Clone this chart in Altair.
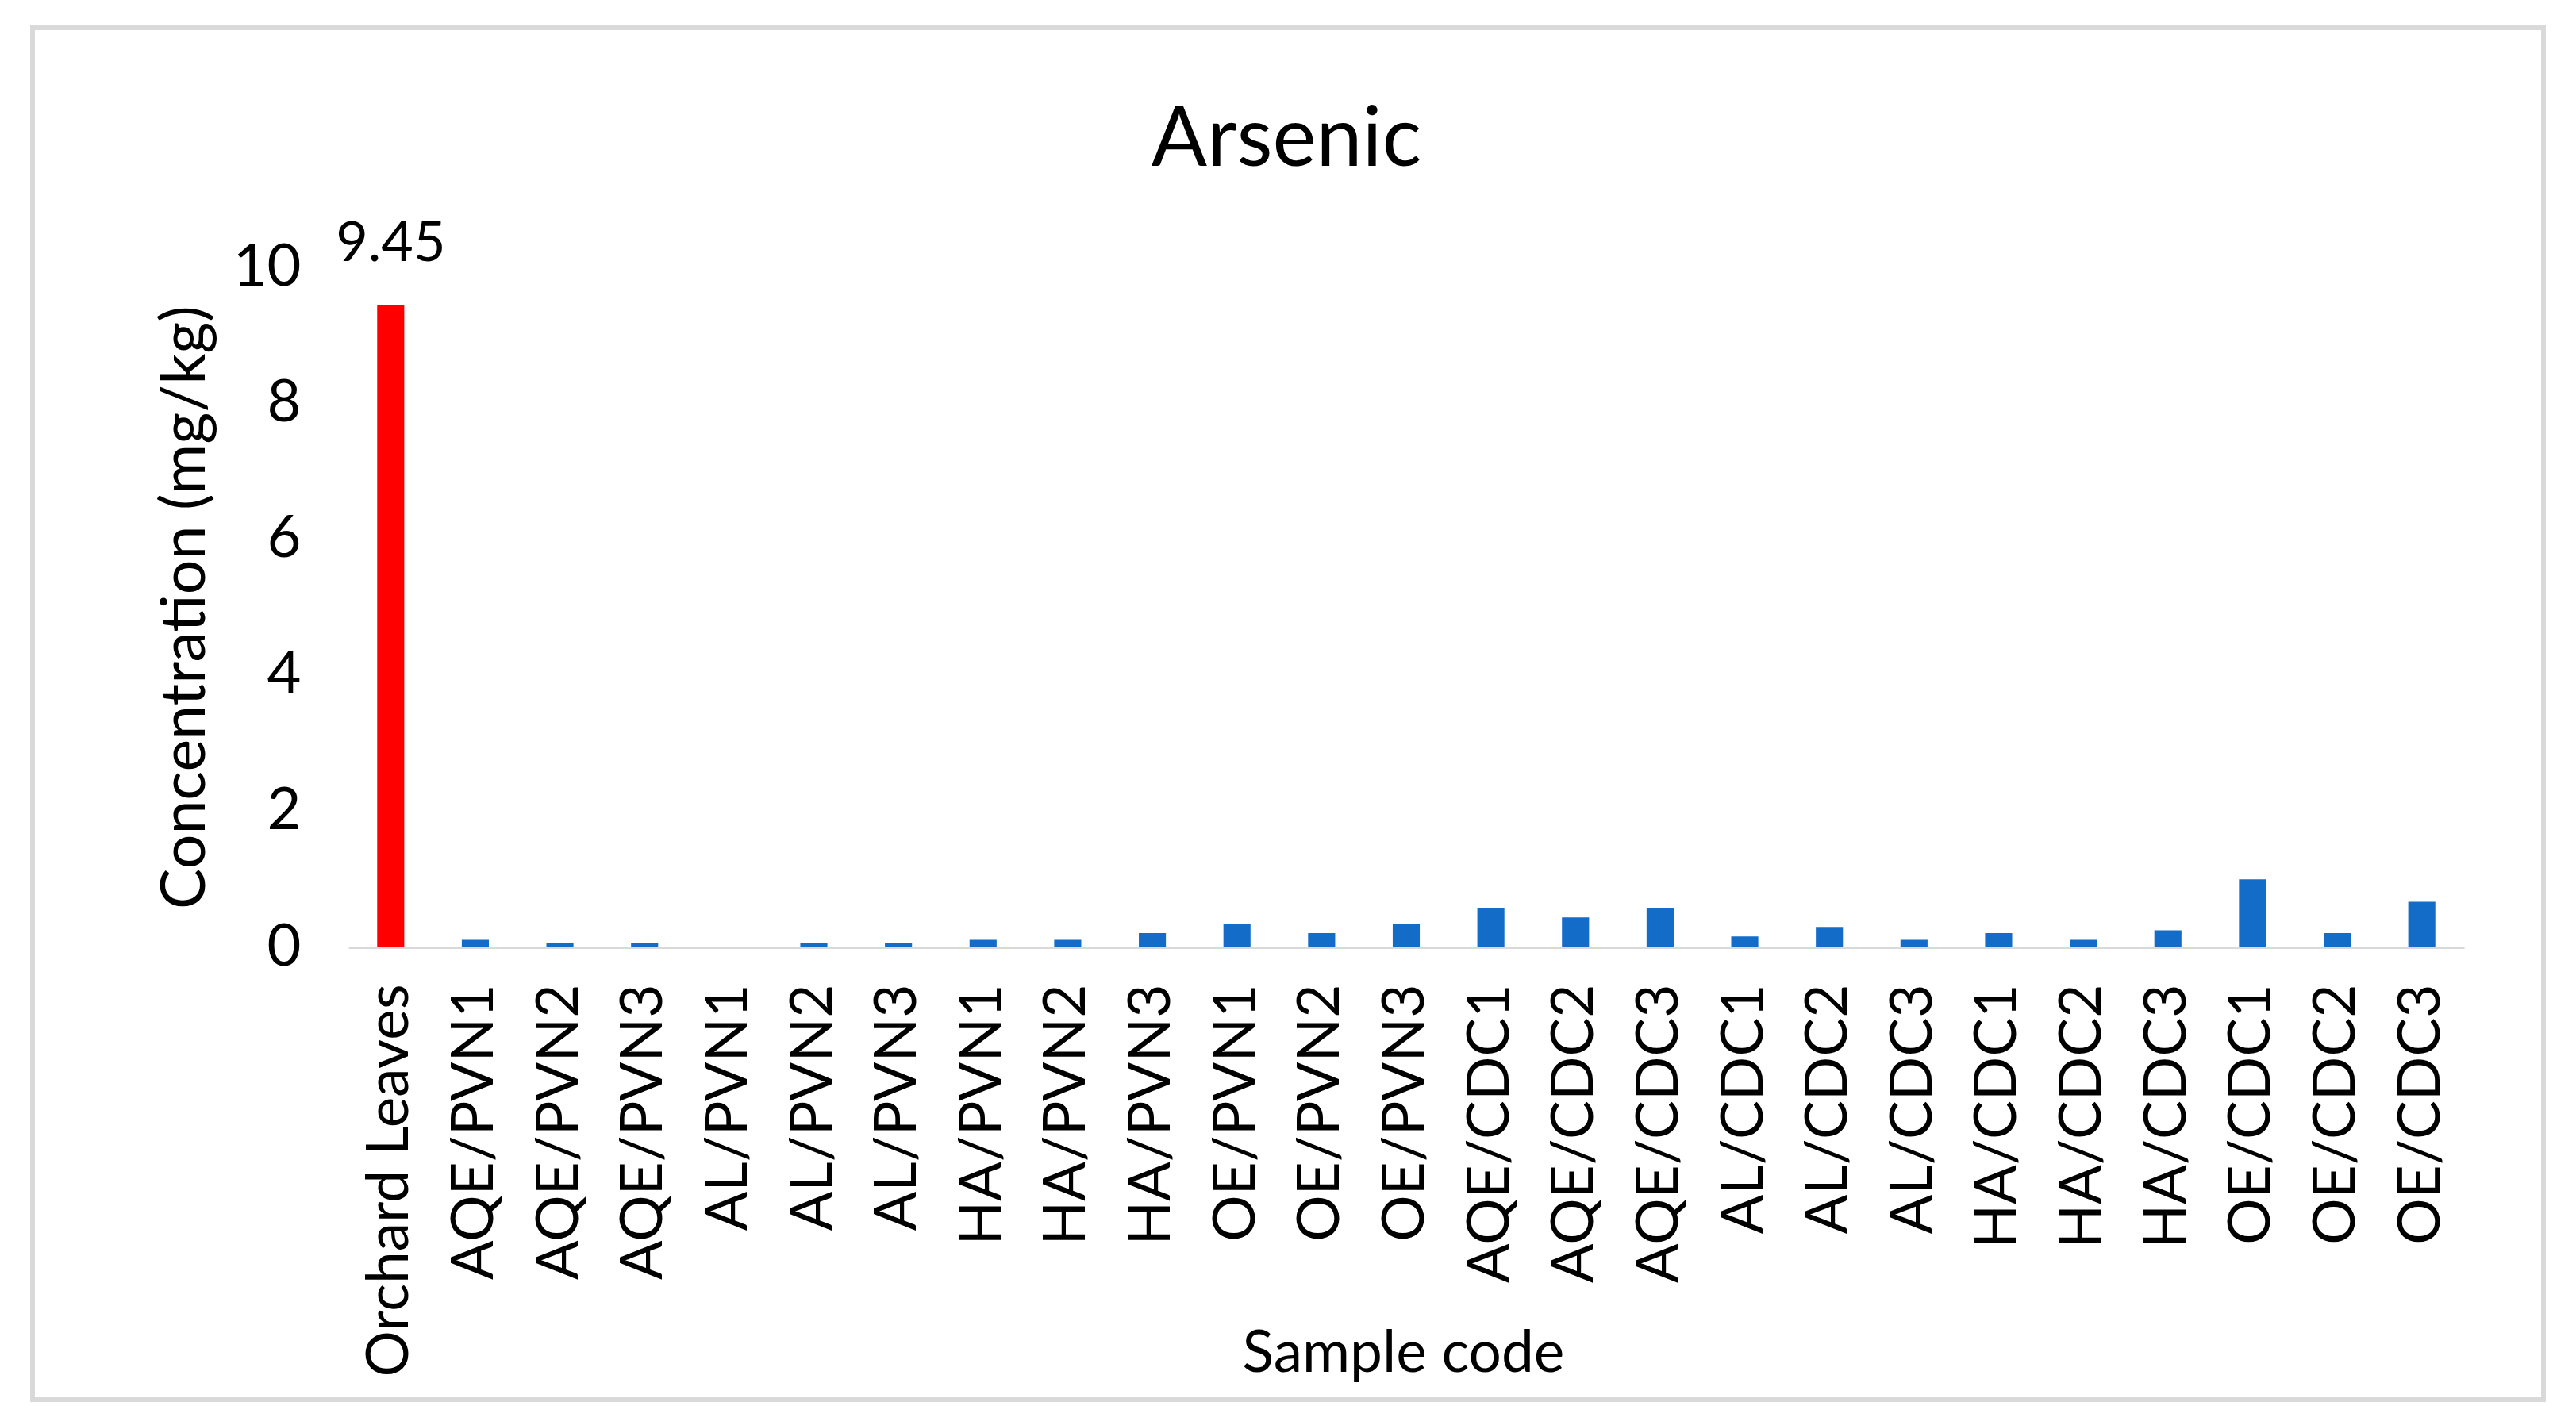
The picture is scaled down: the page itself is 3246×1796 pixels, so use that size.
import altair as alt
import pandas as pd

samples = ["Orchard Leaves", "AQE/PVN1", "AQE/PVN2", "AQE/PVN3", "AL/PVN1", "AL/PVN2",
           "AL/PVN3", "HA/PVN1", "HA/PVN2", "HA/PVN3", "OE/PVN1", "OE/PVN2", "OE/PVN3",
           "AQE/CDC1", "AQE/CDC2", "AQE/CDC3", "AL/CDC1", "AL/CDC2", "AL/CDC3",
           "HA/CDC1", "HA/CDC2", "HA/CDC3", "OE/CDC1", "OE/CDC2", "OE/CDC3"]
values = [9.45, 0.11, 0.07, 0.07, 0.0, 0.07, 0.07, 0.11, 0.11, 0.21, 0.35, 0.21, 0.35,
          0.58, 0.44, 0.58, 0.16, 0.30, 0.11, 0.21, 0.11, 0.25, 1.0, 0.21, 0.67]
groups = ["ref"] + ["sample"] * (len(samples) - 1)
labels = ["9.45"] + [""] * (len(samples) - 1)

df = pd.DataFrame({"sample": samples, "value": values, "group": groups, "label": labels})

FONT = "Lato"
W, H = 2666, 857

x = alt.X("sample:N", sort=samples, title="Sample code",
          scale=alt.Scale(paddingInner=0.68, paddingOuter=0.34),
          axis=alt.Axis(labelAngle=-90, labelFontSize=73, labelFont=FONT, labelColor="#000000",
                        labelPadding=46, ticks=False, domainColor="#d9d9d9", domainWidth=3,
                        titleFontSize=73, titleFont=FONT, titleFontWeight="normal",
                        titleColor="#000000", titleX=1329, titleY=534, titleBaseline="alphabetic",
                        titleAlign="center", labelLimit=1000))
y = alt.Y("value:Q", title="Concentration (mg/kg)",
          scale=alt.Scale(domain=[0, 10]),
          axis=alt.Axis(values=[0, 2, 4, 6, 8, 10], format="d", grid=False, domain=False, ticks=False,
                        labelFontSize=74, labelFont=FONT, labelColor="#000000", labelPadding=60,
                        titleFontSize=77, titleFont=FONT, titleFontWeight="normal",
                        titleColor="#000000", titleX=-205, titleY=428, titleBaseline="middle",
                        titleAlign="center", titleAngle=-90))

bars = alt.Chart(df).mark_bar().encode(
    x=x, y=y,
    color=alt.Color("group:N", scale=alt.Scale(domain=["ref", "sample"], range=["#FF0000", "#146CC9"]),
                    legend=None),
)

text = alt.Chart(df).transform_filter("datum.label != ''").mark_text(
    baseline="bottom", dy=-40, fontSize=70, font=FONT, color="#000000"
).encode(x=alt.X("sample:N", sort=samples), y="value:Q", text="label:N")

frame = alt.Chart(df).mark_rect(fill=None, stroke="#d9d9d9", strokeWidth=5, clip=False).encode(
    x=alt.value(-398), x2=alt.value(2766), y=alt.value(-302), y2=alt.value(1427)
)

chart = alt.layer(frame, bars, text).properties(
    width=W, height=H,
    background="white",
    title=alt.TitleParams("Arsenic", fontSize=104, font=FONT, fontWeight="normal", color="#000000",
                          anchor="middle", dx=-151, offset=-280, baseline="alphabetic"),
    autosize=alt.AutoSizeParams(type="none"),
    padding={"left": 431, "top": 329, "right": 133, "bottom": 594},
).configure_view(strokeWidth=0)

chart.save("out.html", embed_options={"renderer": "svg", "actions": False})
